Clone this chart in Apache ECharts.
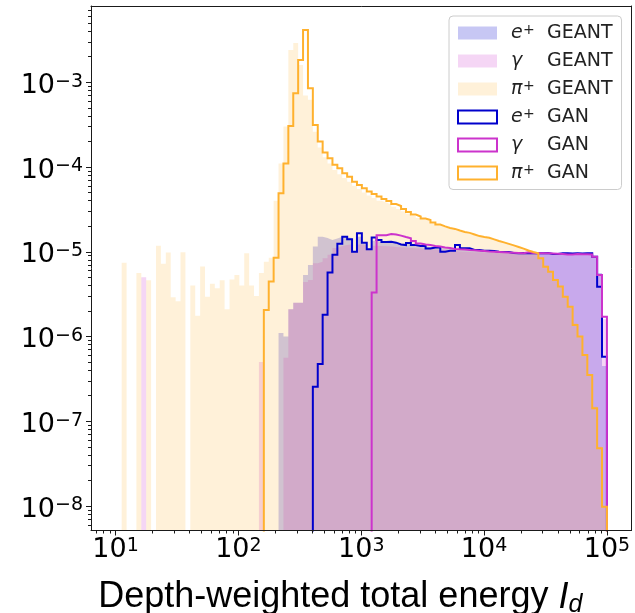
<!DOCTYPE html>
<html>
<head>
<meta charset="utf-8">
<script src="https://cdn.jsdelivr.net/npm/echarts@6/dist/echarts.min.js"></script>
<style>html,body{margin:0;padding:0;background:#fff}#c{width:635px;height:613px}</style>
</head>
<body>
<div id="c"></div>
<script>
// ---- binning (log-spaced histogram bins, 100 bins) ----
const BIN_LOG_MIN = 1.01;
const BIN_LOG_STEP = 0.0399;
const N_BINS = 100;

// ---- axis ticks ----
const xMajorTicks = [10, 100, 1000, 10000, 100000];
const yMajorTicks = [1e-8, 1e-7, 1e-6, 1e-5, 1e-4, 1e-3];

// ---- series names ----
const seriesNames = ['e+ GEANT', 'γ GEANT', 'π+ GEANT', 'e+ GAN', 'γ GAN', 'π+ GAN'];

// ---- histogram values (density per bin) ----
const eGeant = [
 0,0,0,0,0,0,0,0,0,0,
 0,0,0,0,0,0,0,0,0,0,
 0,0,0,0,0,0,0,0,0,0,
 0,0,0,1.1e-6,1.0e-6,2.1e-6,2.5e-6,2.5e-6,5.3e-6,7.0e-6,
 1.15e-5,1.5e-5,1.45e-5,1.38e-5,1.43e-5,1.5e-5,1.48e-5,1.45e-5,1.0e-5,1.5e-5,
 1.25e-5,1.07e-5,1.35e-5,1.3e-5,1.28e-5,1.27e-5,1.26e-5,1.25e-5,1.24e-5,1.22e-5,
 1.2e-5,1.18e-5,1.16e-5,1.14e-5,1.13e-5,1.12e-5,1.1e-5,1.09e-5,1.07e-5,1.06e-5,
 1.05e-5,1.04e-5,1.03e-5,1.02e-5,1.01e-5,1.0e-5,9.9e-6,9.85e-6,9.8e-6,9.75e-6,
 9.7e-6,9.65e-6,9.6e-6,9.6e-6,9.55e-6,9.55e-6,9.5e-6,9.5e-6,9.45e-6,9.45e-6,
 9.4e-6,9.4e-6,9.4e-6,9.35e-6,9.35e-6,9.3e-6,9.2e-6,8.6e-6,5.6e-6,4.5e-7
];
const gGeant = [
 0,0,0,0,0,5.0e-6,0,0,0,0,
 0,0,0,0,0,0,0,0,0,0,
 0,0,0,0,0,0,0,0,0,5.0e-7,
 0,0,0,0,5.6e-7,2.1e-6,2.5e-6,2.5e-6,4.4e-6,4.65e-6,
 7.3e-6,7.6e-6,8.4e-6,9.2e-6,1.11e-5,1.17e-5,1.2e-5,1.22e-5,1.0e-5,1.22e-5,
 1.2e-5,1.07e-5,1.18e-5,1.17e-5,1.16e-5,1.15e-5,1.14e-5,1.13e-5,1.12e-5,1.11e-5,
 1.1e-5,1.09e-5,1.08e-5,1.07e-5,1.06e-5,1.05e-5,1.04e-5,1.03e-5,1.02e-5,1.01e-5,
 1.0e-5,9.95e-6,9.9e-6,9.85e-6,9.8e-6,9.75e-6,9.7e-6,9.7e-6,9.65e-6,9.65e-6,
 9.6e-6,9.6e-6,9.55e-6,9.55e-6,9.5e-6,9.5e-6,9.45e-6,9.45e-6,9.4e-6,9.4e-6,
 9.4e-6,9.35e-6,9.35e-6,9.3e-6,9.3e-6,9.3e-6,9.2e-6,8.7e-6,5.4e-6,1.6e-6
];
const piGeant = [
 0,7.4e-6,0,0,5.6e-6,0,4.6e-6,0,1.18e-5,7.2e-6,
 9.8e-6,2.9e-6,2.6e-6,9.9e-6,0,4.0e-6,1.76e-6,6.7e-6,2.95e-6,4.2e-6,
 3.7e-6,4.6e-6,2.1e-6,4.7e-6,5.3e-6,4.0e-6,9.6e-6,4.0e-6,3.0e-6,5.6e-6,
 7.6e-6,8.5e-6,4.0e-5,1.1e-4,3.0e-4,2.4e-3,2.9e-3,1.6e-3,7.0e-4,6.2e-4,
 2.6e-4,1.7e-4,1.3e-4,1.1e-4,9.2e-5,8.2e-5,7.4e-5,6.7e-5,6.0e-5,5.5e-5,
 5.0e-5,4.6e-5,4.3e-5,4.0e-5,3.8e-5,3.6e-5,3.4e-5,3.2e-5,3.0e-5,2.8e-5,
 2.65e-5,2.5e-5,2.4e-5,2.3e-5,2.15e-5,2.05e-5,1.95e-5,1.87e-5,1.8e-5,1.74e-5,
 1.68e-5,1.62e-5,1.57e-5,1.51e-5,1.47e-5,1.43e-5,1.38e-5,1.33e-5,1.28e-5,1.23e-5,
 1.18e-5,1.13e-5,1.08e-5,1.03e-5,9.8e-6,9.4e-6,8.4e-6,6.9e-6,5.9e-6,4.8e-6,
 3.9e-6,3.0e-6,2.2e-6,1.45e-6,1.0e-6,6.2e-7,3.5e-7,1.5e-7,5.0e-8,1.0e-8
];
const eGan = [
 0,0,0,0,0,0,0,0,0,0,
 0,0,0,0,0,0,0,0,0,0,
 0,0,0,0,0,0,0,0,0,0,
 0,0,0,0,0,0,0,0,0,0,
 2.56e-7,4.74e-7,1.8e-6,5.7e-6,9.2e-6,1.24e-5,1.5e-5,1.4e-5,1.0e-5,1.65e-5,
 1.28e-5,1.07e-5,1.47e-5,1.38e-5,1.3e-5,1.31e-5,1.28e-5,1.22e-5,1.2e-5,1.27e-5,
 1.2e-5,1.17e-5,1.18e-5,1.094e-5,1.125e-5,1.125e-5,1.0e-5,1.03e-5,1.03e-5,1.2e-5,
 1.1e-5,1.1e-5,1.05e-5,1.05e-5,1.03e-5,1.03e-5,1.02e-5,1.0e-5,9.93e-6,9.93e-6,
 9.68e-6,9.6e-6,9.68e-6,9.6e-6,9.6e-6,9.6e-6,9.6e-6,9.68e-6,9.42e-6,9.42e-6,
 9.6e-6,9.6e-6,9.55e-6,9.6e-6,9.55e-6,9.6e-6,9.6e-6,8.75e-6,3.87e-6,5.78e-7
];
const gGan = [
 0,0,0,0,0,0,0,0,0,0,
 0,0,0,0,0,0,0,0,0,0,
 0,0,0,0,0,0,0,0,0,0,
 0,0,0,0,0,0,0,0,0,0,
 0,0,0,0,0,0,0,0,0,0,
 0,0,3.3e-6,1.57e-5,1.57e-5,1.62e-5,1.6e-5,1.55e-5,1.49e-5,1.44e-5,
 1.34e-5,1.25e-5,1.22e-5,1.2e-5,1.17e-5,1.15e-5,1.125e-5,1.11e-5,1.08e-5,1.07e-5,
 1.064e-5,1.05e-5,1.04e-5,1.03e-5,1.02e-5,1.007e-5,1.0e-5,9.93e-6,9.86e-6,9.8e-6,
 9.76e-6,9.68e-6,9.6e-6,9.86e-6,9.68e-6,9.6e-6,9.6e-6,9.6e-6,9.55e-6,9.5e-6,
 9.42e-6,9.28e-6,9.28e-6,9.42e-6,9.33e-6,9.33e-6,9.3e-6,8.75e-6,5.32e-6,1.71e-6
];
const piGan = [
 0,0,0,0,0,0,0,0,0,0,
 0,0,0,0,0,0,0,0,0,0,
 0,0,0,0,0,0,0,0,0,0,
 2.05e-6,4.45e-6,8.5e-6,4.9e-5,1.1e-4,3.05e-4,7.4e-4,1.83e-3,4.14e-3,8.5e-4,
 3.13e-4,2.0e-4,1.48e-4,1.27e-4,1.06e-4,9.66e-5,8.43e-5,7.69e-5,6.71e-5,6.14e-5,
 5.61e-5,5.13e-5,4.81e-5,4.49e-5,4.2e-5,3.97e-5,3.66e-5,3.47e-5,3.2e-5,2.94e-5,
 2.75e-5,2.61e-5,2.47e-5,2.37e-5,2.22e-5,2.1e-5,1.99e-5,1.91e-5,1.86e-5,1.78e-5,
 1.71e-5,1.67e-5,1.6e-5,1.53e-5,1.49e-5,1.46e-5,1.4e-5,1.34e-5,1.29e-5,1.24e-5,
 1.19e-5,1.14e-5,1.09e-5,1.035e-5,9.93e-6,9.6e-6,8.37e-6,6.67e-6,5.82e-6,4.65e-6,
 3.89e-6,2.95e-6,2.25e-6,1.37e-6,1.0e-6,6.05e-7,3.52e-7,1.42e-7,4.79e-8,9.8e-9
];

// ---- styling ----
const X_MIN = 6.3096, X_MAX = 158489;
const Y_MIN = 5.14e-9, Y_MAX = 7.94e-3;
const AX = '#1a1a1a';
const C_E = '#0000cc', C_G = '#cc33cc', C_P = '#ffb12e';
const F_E = 'rgba(0,0,205,0.22)', F_G = 'rgba(204,51,204,0.20)', F_P = 'rgba(255,177,46,0.18)';

// bin edges
const edges = [];
for (let i = 0; i <= N_BINS; i++) edges.push(Math.pow(10, BIN_LOG_MIN + BIN_LOG_STEP * i));

function minorOf(majors, lo, hi) {
  const out = [];
  majors.concat([majors[0] / 10, majors[majors.length - 1] * 10]).forEach(function (d) {
    for (let m = 2; m <= 9; m++) { const v = d * m; if (v > lo && v < hi) out.push(v); }
  });
  return out.sort(function (a, b) { return a - b; });
}
const xMinorTicks = minorOf(xMajorTicks, X_MIN, X_MAX);
const yMinorTicks = minorOf(yMajorTicks, Y_MIN, Y_MAX);

const FLOOR = 1e-14; // zero counts drawn below the axis (clipped)
function histPath(vals) {
  const pts = [[edges[0], FLOOR]];
  for (let i = 0; i < vals.length; i++) {
    const v = vals[i] > 0 ? vals[i] : FLOOR;
    pts.push([edges[i], v]);
    pts.push([edges[i + 1], v]);
  }
  pts.push([edges[vals.length], FLOOR]);
  return pts;
}

function expLabel(v) {
  const e = Math.round(Math.log10(v));
  return '{b|10}{s|' + (e < 0 ? '\u2212' + (-e) : e) + '}';
}
const tickRich = {
  b: { fontSize: 27, fontFamily: 'DejaVu Sans', color: '#000', lineHeight: 27 },
  s: { fontSize: 19, fontFamily: 'DejaVu Sans', color: '#000', lineHeight: 11, verticalAlign: 'top' }
};

function fillSeries(name, vals, fill) {
  return {
    name: name, type: 'line', data: histPath(vals), xAxisIndex: 0, yAxisIndex: 0,
    symbol: 'none', showSymbol: false, silent: true, clip: true,
    lineStyle: { width: 0, opacity: 0 },
    areaStyle: { color: fill, opacity: 1, origin: 'start' },
    z: 2
  };
}
function stepSeries(name, vals, color) {
  return {
    name: name, type: 'line', data: histPath(vals), xAxisIndex: 0, yAxisIndex: 0,
    symbol: 'none', showSymbol: false, silent: true, clip: true,
    lineStyle: { width: 2, color: color, join: 'miter' },
    z: 3
  };
}

const symText = { 'e+': ['e', '+'], 'γ': ['γ', ' '], 'π+': ['π', '+'] };

const option = {
  animation: false,
  backgroundColor: '#fff',
  grid: { left: 91, right: 3.5, top: 6, bottom: 82.5, containLabel: false, outerBoundsMode: 'none' },
  xAxis: [
    {
      type: 'log', logBase: 10, min: X_MIN, max: X_MAX, position: 'bottom', z: 10,
      axisLine: { show: true, onZero: false, lineStyle: { color: AX, width: 1 } },
      axisTick: { show: true, length: 5, customValues: xMajorTicks, lineStyle: { color: AX, width: 1 } },
      minorTick: { show: false }, splitLine: { show: false },
      axisLabel: { show: true, margin: 6, customValues: xMajorTicks, formatter: expLabel, rich: tickRich },
      name: '{a|Depth-weighted total energy }{i|I}{d|d}',
      nameLocation: 'middle', nameGap: 47,
      nameTextStyle: {
        padding: [0, 42, 0, 0],
        rich: {
          a: { fontSize: 36, fontFamily: 'Liberation Sans', color: '#000', lineHeight: 40 },
          i: { fontSize: 36, fontFamily: 'Liberation Sans', fontStyle: 'italic', color: '#000', lineHeight: 40 },
          d: { fontSize: 25, fontFamily: 'Liberation Sans', fontStyle: 'italic', color: '#000', lineHeight: 15, verticalAlign: 'bottom' }
        }
      }
    },
    {
      type: 'log', logBase: 10, min: X_MIN, max: X_MAX, position: 'bottom', z: 10,
      axisLine: { show: false },
      axisTick: { show: true, length: 3, customValues: xMinorTicks, lineStyle: { color: AX, width: 1 } },
      axisLabel: { show: false }, splitLine: { show: false }, minorTick: { show: false }
    },
    {
      type: 'log', logBase: 10, min: X_MIN, max: X_MAX, position: 'top', z: 10,
      axisLine: { show: true, onZero: false, lineStyle: { color: AX, width: 1 } },
      axisTick: { show: false }, axisLabel: { show: false }, splitLine: { show: false }
    }
  ],
  yAxis: [
    {
      type: 'log', logBase: 10, min: Y_MIN, max: Y_MAX, position: 'left', z: 10,
      axisLine: { show: true, onZero: false, lineStyle: { color: AX, width: 1 } },
      axisTick: { show: true, length: 5, customValues: yMajorTicks, lineStyle: { color: AX, width: 1 } },
      minorTick: { show: false }, splitLine: { show: false },
      axisLabel: { show: true, margin: 8, padding: [7, 0, 0, 0], customValues: yMajorTicks, formatter: expLabel, rich: tickRich }
    },
    {
      type: 'log', logBase: 10, min: Y_MIN, max: Y_MAX, position: 'left', z: 10,
      axisLine: { show: false },
      axisTick: { show: true, length: 3, customValues: yMinorTicks, lineStyle: { color: AX, width: 1 } },
      axisLabel: { show: false }, splitLine: { show: false }, minorTick: { show: false }
    },
    {
      type: 'log', logBase: 10, min: Y_MIN, max: Y_MAX, position: 'right', z: 10,
      axisLine: { show: true, onZero: false, lineStyle: { color: AX, width: 1 } },
      axisTick: { show: false }, axisLabel: { show: false }, splitLine: { show: false }
    }
  ],
  legend: {
    orient: 'vertical', left: 449, top: 16,
    padding: [7, 9, 7, 8],
    itemWidth: 39, itemHeight: 13, itemGap: 8.5,
    backgroundColor: 'rgba(255,255,255,0.8)', borderColor: '#cccccc', borderWidth: 1, borderRadius: 4,
    selectedMode: false,
    data: [
      { name: seriesNames[0], icon: 'rect', itemStyle: { color: F_E, borderWidth: 0 } },
      { name: seriesNames[1], icon: 'rect', itemStyle: { color: F_G, borderWidth: 0 } },
      { name: seriesNames[2], icon: 'rect', itemStyle: { color: F_P, borderWidth: 0 } },
      { name: seriesNames[3], icon: 'rect', itemStyle: { color: 'rgba(255,255,255,0)', borderColor: C_E, borderWidth: 2 } },
      { name: seriesNames[4], icon: 'rect', itemStyle: { color: 'rgba(255,255,255,0)', borderColor: C_G, borderWidth: 2 } },
      { name: seriesNames[5], icon: 'rect', itemStyle: { color: 'rgba(255,255,255,0)', borderColor: C_P, borderWidth: 2 } }
    ],
    formatter: function (name) {
      const parts = name.split(' ');
      const sym = symText[parts[0]];
      return '{m|' + sym[0] + '}{s|' + sym[1] + '}{t|' + parts[1] + '}';
    },
    textStyle: {
      rich: {
        m: { fontSize: 19, fontFamily: 'DejaVu Sans', fontStyle: 'italic', color: '#222', lineHeight: 20, width: 12, padding: [0, 0, 0, 9] },
        s: { fontSize: 14, fontFamily: 'DejaVu Sans', color: '#222', lineHeight: 14, verticalAlign: 'top', width: 24 },
        t: { fontSize: 19, fontFamily: 'DejaVu Sans', color: '#222', lineHeight: 20 }
      }
    }
  },
  series: [
    fillSeries(seriesNames[0], eGeant, F_E),
    fillSeries(seriesNames[1], gGeant, F_G),
    fillSeries(seriesNames[2], piGeant, F_P),
    stepSeries(seriesNames[3], eGan, C_E),
    stepSeries(seriesNames[4], gGan, C_G),
    stepSeries(seriesNames[5], piGan, C_P)
  ]
};

const chart = echarts.init(document.getElementById('c'), null, { renderer: 'canvas', width: 635, height: 613 });
chart.setOption(option);
</script>
</body>
</html>
